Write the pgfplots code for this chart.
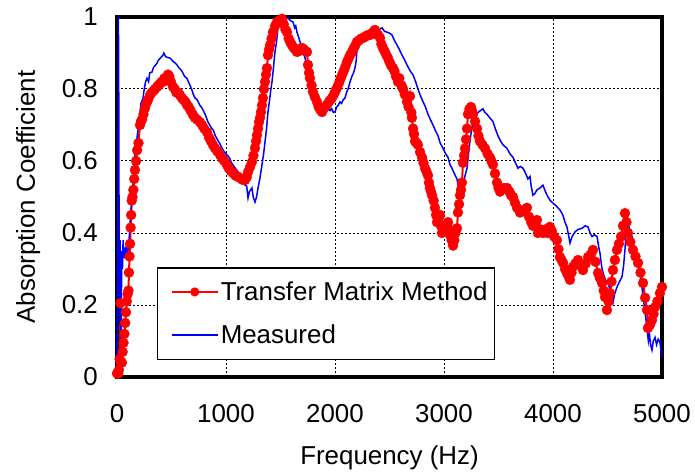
\documentclass[border=0pt]{standalone}
\usepackage{pgfplots}
\pgfplotsset{compat=1.18}
\usepackage{fontspec}
\setmainfont{Liberation Sans}
\begin{document}
\begin{tikzpicture}
\begin{axis}[
  scale only axis,
  width=545bp, height=360bp,
  xmin=0, xmax=5000, ymin=0, ymax=1,
  xtick={0,1000,2000,3000,4000,5000},
  xticklabels={0,1000,2000,3000,4000,5000},
  ytick={0,0.2,0.4,0.6,0.8,1},
  yticklabels={0,0.2,0.4,0.6,0.8,1},
  major tick length=0pt,
  tick label style={font=\fontsize{26}{31}\selectfont, inner sep=0pt},
  xticklabel shift=27bp,
  yticklabel shift=19bp,
  grid=major,
  major grid style={black, line width=1bp, dash pattern=on 2bp off 2bp},
  axis line style={line width=3.5bp},
  xlabel={Frequency (Hz)},
  ylabel={Absorption Coefficient},
  label style={font=\fontsize{26}{31}\selectfont},
  xlabel style={at={(axis description cs:0.5,-0.225)}, anchor=center, inner sep=0pt},
  ylabel style={at={(axis description cs:-0.163,0.5)}, anchor=center, inner sep=0pt},
  clip=false,
  legend cell align=left,
  legend style={at={(axis description cs:0.0734,0.047)}, anchor=south west,
    draw=black, line width=1.5bp, font=\fontsize{26}{31}\selectfont,
    inner xsep=5bp, inner ysep=12bp, row sep=19bp,
    nodes={inner sep=2bp}},
]
\addplot[red, line width=2bp, mark=*, mark size=5bp, mark options={fill=red, draw=red, line width=0.3bp},
  legend image code/.code={\path (0bp,0bp); \draw[line width=2bp] (8bp,0bp) -- (54bp,0bp); \fill[red] (31bp,0bp) circle (3.5bp);}]
coordinates {
(0,0.01) (6,0.01) (12,0.01) (18,0.02) (24,0.05) (30,0.205) (36,0.04) (45,0.04) (52,0.07) (60,0.095)
(68,0.12) (75,0.15) (82,0.18) (90,0.21) (97,0.23) (105,0.24) (110,0.29) (115,0.335) (120,0.37)
(125,0.415) (130,0.45) (135,0.49) (142,0.50) (150,0.52) (158,0.55) (165,0.575) (175,0.60) (185,0.63)
(197,0.65) (211,0.70) (220,0.71) (230,0.715) (243,0.73) (257,0.747) (270,0.76) (285,0.77) (303,0.783)
(318,0.79) (335,0.795) (350,0.80) (367,0.806) (380,0.81) (395,0.815) (410,0.82) (422,0.82) (435,0.83)
(450,0.83) (468,0.84) (480,0.835) (495,0.82) (514,0.806) (530,0.80) (545,0.79) (562,0.79) (578,0.783)
(595,0.775) (610,0.77) (626,0.765) (642,0.756) (658,0.75) (675,0.74) (697,0.728) (715,0.72) (735,0.715)
(761,0.708) (780,0.70) (800,0.69) (826,0.68) (845,0.665) (862,0.655) (881,0.644) (900,0.635) (920,0.627)
(945,0.617) (965,0.607) (985,0.60) (1009,0.589) (1025,0.58) (1045,0.572) (1064,0.567) (1085,0.56)
(1105,0.557) (1128,0.553) (1150,0.548) (1174,0.547) (1190,0.555) (1202,0.569) (1220,0.583) (1238,0.597)
(1252,0.615) (1266,0.636) (1276,0.655) (1284,0.672) (1294,0.69) (1303,0.708) (1312,0.72) (1321,0.736)
(1330,0.755) (1339,0.775) (1348,0.80) (1358,0.82) (1367,0.84) (1376,0.858) (1385,0.894) (1395,0.91)
(1404,0.922) (1418,0.94) (1431,0.958) (1450,0.975) (1468,0.986) (1490,0.99) (1514,0.995) (1530,0.98)
(1545,0.965) (1560,0.958) (1575,0.94) (1590,0.93) (1605,0.922) (1620,0.915) (1635,0.91) (1651,0.903)
(1665,0.905) (1680,0.91) (1697,0.914) (1715,0.91) (1730,0.905) (1743,0.903) (1752,0.867) (1762,0.845)
(1770,0.83) (1785,0.81) (1798,0.792) (1815,0.778) (1835,0.764) (1850,0.75) (1865,0.742) (1881,0.736)
(1895,0.745) (1910,0.75) (1927,0.756) (1945,0.765) (1960,0.77) (1972,0.775) (1990,0.785) (2005,0.795)
(2018,0.803) (2035,0.815) (2050,0.828) (2064,0.839) (2080,0.85) (2095,0.862) (2110,0.875) (2125,0.885)
(2140,0.895) (2156,0.903) (2170,0.912) (2185,0.92) (2202,0.931) (2220,0.935) (2240,0.94) (2257,0.942)
(2275,0.945) (2290,0.948) (2305,0.95) (2321,0.95) (2340,0.955) (2355,0.96) (2367,0.964) (2380,0.955)
(2395,0.95) (2413,0.942) (2425,0.925) (2440,0.914) (2455,0.905) (2470,0.895) (2486,0.886) (2500,0.875)
(2515,0.865) (2532,0.858) (2545,0.85) (2560,0.835) (2578,0.82) (2590,0.83) (2610,0.81) (2624,0.80)
(2640,0.785) (2660,0.765) (2675,0.75) (2688,0.78) (2700,0.735) (2706,0.72) (2716,0.69) (2725,0.675)
(2734,0.655) (2748,0.65) (2761,0.645) (2780,0.625) (2798,0.61) (2812,0.595) (2826,0.58) (2840,0.57)
(2853,0.56) (2862,0.54) (2871,0.525) (2880,0.515) (2890,0.505) (2905,0.49) (2917,0.47) (2927,0.45)
(2936,0.43) (2950,0.44) (2963,0.45) (2972,0.42) (2981,0.40) (2995,0.405) (3009,0.413) (3023,0.42)
(3037,0.43) (3046,0.41) (3055,0.395) (3070,0.38) (3083,0.365) (3095,0.38) (3105,0.40) (3119,0.413)
(3128,0.457) (3138,0.48) (3147,0.505) (3156,0.52) (3165,0.54) (3174,0.595) (3184,0.615) (3193,0.635)
(3202,0.66) (3211,0.69) (3220,0.73) (3234,0.745) (3248,0.75) (3257,0.74) (3266,0.73) (3285,0.71)
(3303,0.69) (3316,0.67) (3330,0.655) (3353,0.645) (3376,0.635) (3400,0.62) (3422,0.61) (3435,0.60)
(3449,0.59) (3468,0.565) (3486,0.54) (3500,0.525) (3514,0.515) (3530,0.52) (3550,0.525) (3578,0.525)
(3600,0.515) (3615,0.505) (3633,0.50) (3650,0.485) (3670,0.47) (3697,0.457) (3720,0.46) (3740,0.465)
(3761,0.47) (3780,0.445) (3800,0.43) (3816,0.42) (3835,0.425) (3853,0.436) (3862,0.40) (3885,0.41)
(3908,0.40) (3930,0.41) (3950,0.40) (3972,0.417) (3990,0.405) (4010,0.39) (4036,0.38) (4050,0.355)
(4064,0.333) (4078,0.325) (4092,0.317) (4110,0.30) (4128,0.289) (4142,0.28) (4156,0.27) (4170,0.29)
(4183,0.306) (4205,0.315) (4229,0.325) (4250,0.31) (4275,0.297) (4300,0.315) (4321,0.333) (4345,0.34)
(4367,0.353) (4390,0.32) (4413,0.289) (4430,0.275) (4450,0.261) (4465,0.24) (4477,0.222) (4495,0.186)
(4510,0.21) (4523,0.233) (4537,0.265) (4550,0.297) (4568,0.325) (4587,0.353) (4605,0.37) (4624,0.39)
(4642,0.42) (4660,0.455) (4674,0.43) (4688,0.40) (4710,0.375) (4734,0.353) (4757,0.335) (4780,0.317)
(4803,0.29) (4826,0.261) (4845,0.22) (4862,0.186) (4871,0.136) (4890,0.145) (4908,0.158) (4922,0.175)
(4936,0.194) (4958,0.21) (4981,0.233) (5000,0.25)
};
\addlegendentry{Transfer Matrix Method}
\addplot[blue, line width=1.5bp, mark=none,
  legend image code/.code={\path (0bp,0bp); \draw[line width=2bp] (8bp,0bp) -- (54bp,0bp);}]
coordinates {
(0,0.0) (6,0.3) (10,0.8) (13,1.0) (16,0.8) (20,0.3) (24,0.15) (28,0.38) (32,0.1) (36,0.0) (40,0.2)
(44,0.35) (50,0.30) (56,0.38) (62,0.33) (70,0.36) (78,0.33) (86,0.37) (95,0.34) (105,0.36) (115,0.40)
(125,0.45) (140,0.50) (152,0.56) (165,0.62) (182,0.66) (200,0.705) (220,0.76) (239,0.775) (250,0.80)
(262,0.82) (275,0.83) (290,0.82) (300,0.845) (321,0.847) (335,0.86) (350,0.865) (367,0.872) (380,0.88)
(395,0.885) (410,0.89) (422,0.894) (430,0.90) (445,0.89) (460,0.888) (486,0.886) (505,0.88) (520,0.875)
(535,0.872) (550,0.867) (565,0.86) (580,0.855) (595,0.85) (605,0.844) (620,0.835) (640,0.83) (655,0.82)
(670,0.81) (690,0.795) (700,0.785) (716,0.775) (735,0.77) (760,0.755) (780,0.747) (800,0.735) (815,0.725)
(835,0.708) (850,0.70) (870,0.69) (885,0.685) (899,0.672) (920,0.66) (940,0.65) (963,0.636) (985,0.625)
(1009,0.617) (1030,0.61) (1050,0.595) (1064,0.589) (1085,0.58) (1110,0.57) (1128,0.561) (1140,0.55)
(1155,0.545) (1174,0.533) (1190,0.53) (1202,0.497) (1215,0.515) (1238,0.525) (1250,0.50) (1266,0.486)
(1280,0.50) (1294,0.525) (1310,0.55) (1330,0.589) (1345,0.62) (1358,0.653) (1372,0.69) (1385,0.736)
(1400,0.77) (1412,0.80) (1422,0.82) (1436,0.86) (1449,0.903) (1463,0.93) (1477,0.97) (1490,0.98)
(1514,0.99) (1530,0.995) (1550,0.995) (1569,0.997) (1590,0.99) (1615,0.986) (1630,0.97) (1640,0.975)
(1651,0.958) (1665,0.945) (1679,0.931) (1700,0.91) (1725,0.886) (1745,0.86) (1770,0.83) (1790,0.805)
(1816,0.783) (1835,0.77) (1850,0.765) (1865,0.755) (1881,0.756) (1900,0.75) (1920,0.752) (1936,0.747)
(1955,0.74) (1970,0.745) (1985,0.735) (2000,0.736) (2015,0.75) (2030,0.755) (2046,0.764) (2060,0.76)
(2075,0.77) (2092,0.775) (2105,0.79) (2120,0.80) (2138,0.82) (2155,0.835) (2170,0.845) (2183,0.858)
(2195,0.88) (2202,0.914) (2211,0.931) (2230,0.93) (2250,0.935) (2275,0.936) (2295,0.94) (2315,0.945)
(2339,0.95) (2360,0.955) (2385,0.964) (2405,0.965) (2431,0.97) (2455,0.96) (2477,0.958) (2500,0.955)
(2523,0.95) (2545,0.935) (2569,0.922) (2590,0.91) (2615,0.894) (2640,0.88) (2660,0.867) (2690,0.85)
(2716,0.839) (2740,0.82) (2761,0.80) (2785,0.78) (2807,0.765) (2830,0.75) (2853,0.73) (2875,0.715)
(2899,0.70) (2920,0.685) (2945,0.67) (2965,0.65) (2991,0.635) (3015,0.62) (3037,0.61) (3055,0.59)
(3073,0.58) (3095,0.565) (3119,0.55) (3130,0.53) (3138,0.515) (3150,0.52) (3165,0.53) (3174,0.535)
(3190,0.555) (3211,0.58) (3225,0.62) (3238,0.655) (3252,0.685) (3266,0.71) (3290,0.725) (3312,0.735)
(3335,0.74) (3358,0.745) (3375,0.735) (3394,0.73) (3420,0.72) (3449,0.71) (3470,0.69) (3495,0.67)
(3520,0.655) (3541,0.645) (3560,0.64) (3578,0.635) (3605,0.62) (3633,0.61) (3655,0.595) (3679,0.58)
(3700,0.585) (3725,0.58) (3750,0.565) (3770,0.55) (3789,0.557) (3800,0.53) (3816,0.505) (3835,0.51)
(3853,0.52) (3880,0.525) (3908,0.533) (3930,0.515) (3954,0.50) (3975,0.49) (4000,0.483) (4030,0.475)
(4064,0.464) (4090,0.45) (4110,0.43) (4128,0.417) (4145,0.39) (4156,0.372) (4175,0.39) (4202,0.403)
(4230,0.41) (4266,0.413) (4295,0.42) (4321,0.417) (4340,0.40) (4358,0.39) (4380,0.395) (4404,0.39)
(4420,0.36) (4431,0.344) (4445,0.31) (4459,0.289) (4480,0.27) (4505,0.261) (4525,0.24) (4550,0.206)
(4565,0.23) (4587,0.25) (4610,0.265) (4633,0.278) (4648,0.31) (4660,0.353) (4670,0.40) (4679,0.444)
(4695,0.42) (4710,0.40) (4725,0.39) (4745,0.36) (4770,0.333) (4790,0.30) (4816,0.25) (4840,0.19)
(4862,0.139) (4875,0.10) (4885,0.12) (4895,0.09) (4908,0.075) (4920,0.10) (4936,0.11) (4950,0.09)
(4965,0.105) (4981,0.097) (4992,0.07) (5000,0.055)
};
\addlegendentry{Measured}
\end{axis}
\pgfresetboundingbox
\path[use as bounding box] (-117bp,-95bp) rectangle (578bp,377bp);
\end{tikzpicture}
\end{document}
